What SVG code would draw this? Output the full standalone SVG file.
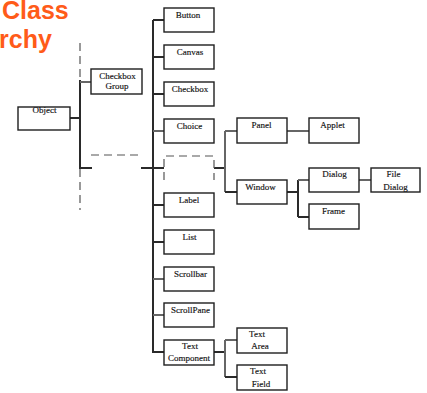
<svg xmlns="http://www.w3.org/2000/svg" width="427" height="393" viewBox="0 0 427 393">
  <style>
    .title { font-family: "Liberation Sans", Arial, sans-serif; font-weight: bold; font-size: 25px; fill: #FF5B19; }
    .box { fill: #ffffff; stroke: #1e1e1e; stroke-width: 1.4; }
    .lbl { font-family: "Liberation Serif", "Times New Roman", serif; font-size: 9px; fill: #111; stroke: #111; stroke-width: 0.15; text-anchor: middle; }
    .ln { fill: none; stroke: #2a2a2a; stroke-width: 2; }
    .lg { fill: none; stroke: #666; stroke-width: 2; }
    .dash { fill: none; stroke: #555; stroke-width: 1.2; stroke-dasharray: 8 5; }
  </style>

  <text class="title" x="2" y="18.5">Class</text>
  <text class="title" x="-1" y="48">rchy</text>

  <g id="connectors">
    <!-- Object trunk -->
    <line class="dash" x1="80" y1="43" x2="80" y2="80"/>
    <line class="ln" x1="80" y1="80" x2="80" y2="169"/>
    <line class="dash" x1="80" y1="169" x2="80" y2="210"/>
    <line class="ln" x1="70" y1="118" x2="80" y2="118"/>
    <line class="lg" x1="80" y1="82" x2="91" y2="82"/>
    <line class="dash" x1="91" y1="155" x2="141" y2="155"/>
    <line class="ln" x1="80" y1="168" x2="92" y2="168"/>
    <line class="ln" x1="141" y1="168" x2="164" y2="168"/>
    <!-- Component trunk -->
    <line class="ln" x1="153" y1="20" x2="153" y2="353"/>
    <line class="ln" x1="153" y1="20" x2="164" y2="20"/>
    <line class="ln" x1="153" y1="57" x2="164" y2="57"/>
    <line class="ln" x1="153" y1="94" x2="164" y2="94"/>
    <line class="lg" x1="153" y1="131" x2="164" y2="131"/>
    <line class="ln" x1="153" y1="205" x2="164" y2="205"/>
    <line class="ln" x1="153" y1="242" x2="164" y2="242"/>
    <line class="lg" x1="153" y1="279" x2="164" y2="279"/>
    <line class="lg" x1="153" y1="315" x2="164" y2="315"/>
    <line class="ln" x1="153" y1="352" x2="164" y2="352"/>
    <!-- Container branch -->
    <line class="ln" x1="214" y1="168" x2="225" y2="168"/>
    <line class="lg" x1="225" y1="131" x2="225" y2="192"/>
    <line class="lg" x1="225" y1="131" x2="237" y2="131"/>
    <line class="ln" x1="225" y1="192" x2="237" y2="192"/>
    <line class="lg" x1="287" y1="131" x2="309" y2="131"/>
    <!-- Window branch -->
    <line class="ln" x1="287" y1="192" x2="298" y2="192"/>
    <line class="ln" x1="298" y1="180" x2="298" y2="217"/>
    <line class="lg" x1="298" y1="180" x2="309" y2="180"/>
    <line class="ln" x1="298" y1="217" x2="309" y2="217"/>
    <line class="lg" x1="359" y1="180" x2="371" y2="180"/>
    <!-- TextComponent branch -->
    <line class="ln" x1="214" y1="352" x2="225" y2="352"/>
    <line class="lg" x1="225" y1="340" x2="225" y2="377"/>
    <line class="lg" x1="225" y1="340" x2="237" y2="340"/>
    <line class="ln" x1="225" y1="377" x2="237" y2="377"/>
  </g>

  <g id="object"><rect class="box" x="18" y="107" width="52" height="23"/><text class="lbl" x="44.5" y="113">Object</text></g>
  <g id="checkboxgroup"><rect class="box" x="91" y="69" width="51" height="25"/><text class="lbl" x="117.5" y="79">Checkbox</text><text class="lbl" x="117" y="89">Group</text></g>

  <g id="button"><rect class="box" x="164" y="8" width="50" height="24"/><text class="lbl" x="188" y="17.5">Button</text></g>
  <g id="canvas"><rect class="box" x="164" y="45" width="50" height="24"/><text class="lbl" x="190" y="55">Canvas</text></g>
  <g id="checkbox"><rect class="box" x="164" y="82" width="50" height="24"/><text class="lbl" x="190" y="92">Checkbox</text></g>
  <g id="choice"><rect class="box" x="164" y="119" width="50" height="24"/><text class="lbl" x="189.5" y="129">Choice</text></g>
  <g id="container"><path class="dash" d="M164,180 V156 H214 V180"/></g>
  <g id="label"><rect class="box" x="164" y="193" width="50" height="24"/><text class="lbl" x="189" y="202.5">Label</text></g>
  <g id="list"><rect class="box" x="164" y="230" width="50" height="24"/><text class="lbl" x="189.5" y="239.5">List</text></g>
  <g id="scrollbar"><rect class="box" x="164" y="267" width="50" height="24"/><text class="lbl" x="190.5" y="276.5">Scrollbar</text></g>
  <g id="scrollpane"><rect class="box" x="164" y="303" width="50" height="24"/><text class="lbl" x="190.5" y="312.5">ScrollPane</text></g>
  <g id="textcomponent"><rect class="box" x="164" y="340" width="50" height="25"/><text class="lbl" x="190" y="348.5">Text</text><text class="lbl" x="189" y="361">Component</text></g>

  <g id="panel"><rect class="box" x="237" y="118" width="50" height="25"/><text class="lbl" x="261.5" y="127.5">Panel</text></g>
  <g id="applet"><rect class="box" x="309" y="118" width="50" height="25"/><text class="lbl" x="332.5" y="127.5">Applet</text></g>
  <g id="window"><rect class="box" x="237" y="180" width="50" height="24"/><text class="lbl" x="260.5" y="189.5">Window</text></g>
  <g id="dialog"><rect class="box" x="309" y="168" width="50" height="24"/><text class="lbl" x="334.5" y="177">Dialog</text></g>
  <g id="filedialog"><rect class="box" x="371" y="168" width="49" height="24"/><text class="lbl" x="393.5" y="177">File</text><text class="lbl" x="395.5" y="190">Dialog</text></g>
  <g id="frame"><rect class="box" x="309" y="204" width="50" height="25"/><text class="lbl" x="333.5" y="213.5">Frame</text></g>
  <g id="textarea"><rect class="box" x="237" y="328" width="50" height="25"/><text class="lbl" x="257" y="337">Text</text><text class="lbl" x="260" y="349">Area</text></g>
  <g id="textfield"><rect class="box" x="237" y="365" width="50" height="25"/><text class="lbl" x="258" y="374">Text</text><text class="lbl" x="261" y="387">Field</text></g>
</svg>
